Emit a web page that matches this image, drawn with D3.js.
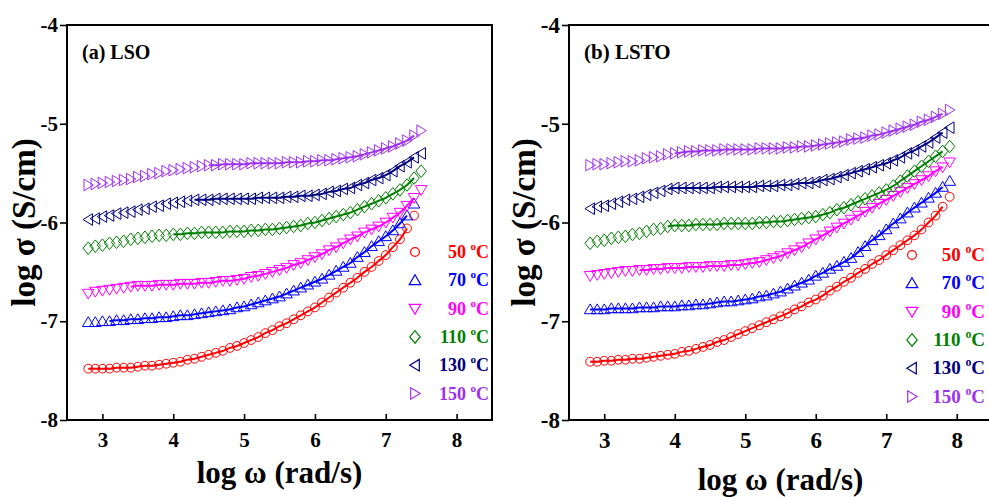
<!DOCTYPE html>
<html>
<head>
<meta charset="utf-8">
<script src="https://cdn.jsdelivr.net/npm/d3@7"></script>
<style>
  body { margin: 0; background: #fff; }
  text { font-family: "Liberation Serif", "Times New Roman", serif; font-weight: bold; }
</style>
</head>
<body>
<script>
// log ω (rad/s) sampling of each panel
var freqLSO = [2.8, 2.9, 3.0, 3.1, 3.2, 3.3, 3.4, 3.5, 3.6, 3.7, 3.8, 3.9, 4.0, 4.1, 4.2, 4.3,
    4.4, 4.5, 4.6, 4.7, 4.8, 4.9, 5.0, 5.1, 5.2, 5.3, 5.4, 5.5, 5.6, 5.7, 5.8, 5.9, 6.0, 6.1,
    6.2, 6.3, 6.4, 6.5, 6.6, 6.7, 6.8, 6.9, 7.0, 7.1, 7.2, 7.3, 7.4, 7.5];
var freqLSTO = [2.8, 2.9, 3.0, 3.1, 3.2, 3.3, 3.4, 3.5, 3.6, 3.7, 3.8, 3.9, 4.0, 4.1, 4.2, 4.3,
    4.4, 4.5, 4.6, 4.7, 4.8, 4.9, 5.0, 5.1, 5.2, 5.3, 5.4, 5.5, 5.6, 5.7, 5.8, 5.9, 6.0, 6.1,
    6.2, 6.3, 6.4, 6.5, 6.6, 6.7, 6.8, 6.9, 7.0, 7.1, 7.2, 7.3, 7.4, 7.5, 7.6, 7.7, 7.8, 7.9];

var temps = ["50", "70", "90", "110", "130", "150"];
var colors = ["#ff0000", "#0000ff", "#ff00ff", "#008000", "#000080", "#a030f0"];
var symbols = ["circle", "up", "down", "diamond", "left", "right"];

// log σ (S/cm), panel (a) LSO
var lso50 = [-7.48, -7.48, -7.48, -7.48, -7.47, -7.47, -7.47, -7.46, -7.45, -7.45, -7.44, -7.43,
    -7.42, -7.41, -7.39, -7.38, -7.36, -7.34, -7.32, -7.30, -7.27, -7.25, -7.22, -7.19, -7.16,
    -7.12, -7.09, -7.05, -7.02, -6.98, -6.94, -6.90, -6.86, -6.81, -6.76, -6.71, -6.66, -6.61,
    -6.56, -6.50, -6.45, -6.39, -6.33, -6.25, -6.17, -6.06, -5.93];
var lso70 = [-7.01, -7.01, -7.00, -7.00, -6.99, -6.99, -6.98, -6.98, -6.97, -6.97, -6.96, -6.96,
    -6.95, -6.94, -6.94, -6.93, -6.92, -6.91, -6.90, -6.89, -6.88, -6.86, -6.85, -6.83, -6.81,
    -6.79, -6.77, -6.75, -6.72, -6.69, -6.66, -6.63, -6.60, -6.57, -6.53, -6.49, -6.45, -6.41,
    -6.35, -6.30, -6.24, -6.19, -6.14, -6.08, -6.01, -5.93, -5.81];
var lso90 = [-6.72, -6.70, -6.69, -6.68, -6.67, -6.66, -6.65, -6.64, -6.64, -6.64, -6.63, -6.63,
    -6.63, -6.62, -6.62, -6.62, -6.61, -6.61, -6.60, -6.59, -6.59, -6.58, -6.57, -6.55, -6.54,
    -6.52, -6.50, -6.48, -6.46, -6.43, -6.41, -6.38, -6.35, -6.32, -6.28, -6.25, -6.21, -6.17,
    -6.14, -6.10, -6.07, -6.04, -6.00, -5.95, -5.90, -5.83, -5.75, -5.67];
var lso110 = [-6.26, -6.24, -6.23, -6.21, -6.20, -6.19, -6.17, -6.16, -6.15, -6.14, -6.13, -6.13,
    -6.12, -6.12, -6.11, -6.11, -6.10, -6.10, -6.10, -6.10, -6.09, -6.09, -6.09, -6.08, -6.08,
    -6.07, -6.07, -6.06, -6.05, -6.04, -6.03, -6.01, -6.00, -5.98, -5.96, -5.94, -5.92, -5.90,
    -5.87, -5.84, -5.81, -5.78, -5.75, -5.71, -5.67, -5.62, -5.55, -5.48];
var lso130 = [-5.97, -5.96, -5.94, -5.93, -5.91, -5.90, -5.89, -5.87, -5.86, -5.84, -5.83, -5.81,
    -5.80, -5.79, -5.78, -5.77, -5.77, -5.77, -5.76, -5.76, -5.76, -5.76, -5.76, -5.76, -5.75,
    -5.75, -5.75, -5.75, -5.74, -5.74, -5.73, -5.73, -5.72, -5.71, -5.69, -5.68, -5.66, -5.65,
    -5.62, -5.60, -5.57, -5.55, -5.52, -5.48, -5.43, -5.39, -5.34, -5.30];
var lso150 = [-5.62, -5.61, -5.60, -5.59, -5.58, -5.57, -5.56, -5.54, -5.53, -5.51, -5.50, -5.48,
    -5.47, -5.46, -5.45, -5.44, -5.43, -5.42, -5.42, -5.41, -5.41, -5.41, -5.41, -5.40, -5.40,
    -5.40, -5.40, -5.40, -5.39, -5.39, -5.39, -5.38, -5.38, -5.37, -5.37, -5.36, -5.35, -5.34,
    -5.33, -5.31, -5.29, -5.27, -5.25, -5.23, -5.20, -5.17, -5.12, -5.07];

// log σ (S/cm), panel (b) LSTO
var lsto50 = [-7.41, -7.41, -7.40, -7.40, -7.39, -7.39, -7.38, -7.38, -7.37, -7.36, -7.35, -7.34,
    -7.33, -7.31, -7.30, -7.28, -7.26, -7.24, -7.21, -7.19, -7.16, -7.13, -7.10, -7.07, -7.04,
    -7.01, -6.98, -6.95, -6.92, -6.88, -6.85, -6.81, -6.78, -6.74, -6.69, -6.65, -6.60, -6.56,
    -6.51, -6.47, -6.42, -6.38, -6.33, -6.28, -6.23, -6.18, -6.13, -6.07, -6.00, -5.93, -5.84, -5.74];
var lsto70 = [-6.88, -6.88, -6.88, -6.87, -6.87, -6.87, -6.87, -6.86, -6.86, -6.86, -6.85, -6.85,
    -6.85, -6.84, -6.84, -6.83, -6.83, -6.82, -6.81, -6.80, -6.80, -6.79, -6.78, -6.77, -6.75,
    -6.74, -6.72, -6.70, -6.67, -6.64, -6.61, -6.58, -6.54, -6.51, -6.47, -6.44, -6.40, -6.36,
    -6.30, -6.24, -6.18, -6.13, -6.07, -6.01, -5.96, -5.90, -5.85, -5.80, -5.75, -5.70, -5.64, -5.58];
var lsto90 = [-6.54, -6.53, -6.52, -6.51, -6.50, -6.49, -6.49, -6.48, -6.48, -6.47, -6.47, -6.46,
    -6.46, -6.46, -6.45, -6.45, -6.45, -6.44, -6.44, -6.44, -6.43, -6.43, -6.42, -6.41, -6.40,
    -6.38, -6.36, -6.34, -6.31, -6.28, -6.25, -6.21, -6.17, -6.13, -6.09, -6.05, -6.01, -5.97,
    -5.93, -5.89, -5.85, -5.81, -5.77, -5.73, -5.69, -5.65, -5.61, -5.57, -5.53, -5.48, -5.44, -5.39];
var lsto110 = [-6.21, -6.19, -6.18, -6.16, -6.15, -6.14, -6.12, -6.11, -6.09, -6.07, -6.06, -6.04,
    -6.03, -6.03, -6.03, -6.02, -6.02, -6.02, -6.02, -6.01, -6.01, -6.01, -6.01, -6.01, -6.00,
    -6.00, -5.99, -5.99, -5.98, -5.97, -5.96, -5.95, -5.94, -5.92, -5.90, -5.87, -5.85, -5.82,
    -5.79, -5.76, -5.73, -5.70, -5.67, -5.63, -5.58, -5.53, -5.48, -5.43, -5.38, -5.33, -5.28, -5.23];
var lsto130 = [-5.86, -5.84, -5.83, -5.81, -5.79, -5.77, -5.76, -5.74, -5.72, -5.70, -5.68, -5.66,
    -5.65, -5.65, -5.65, -5.65, -5.65, -5.65, -5.64, -5.64, -5.64, -5.64, -5.64, -5.64, -5.63,
    -5.63, -5.63, -5.62, -5.62, -5.61, -5.60, -5.60, -5.59, -5.57, -5.56, -5.54, -5.52, -5.50,
    -5.48, -5.46, -5.44, -5.42, -5.40, -5.37, -5.34, -5.30, -5.27, -5.23, -5.19, -5.14, -5.09, -5.04];
var lsto150 = [-5.42, -5.41, -5.41, -5.40, -5.39, -5.38, -5.38, -5.37, -5.35, -5.34, -5.33, -5.31,
    -5.30, -5.29, -5.28, -5.28, -5.27, -5.27, -5.27, -5.26, -5.26, -5.26, -5.26, -5.26, -5.25,
    -5.25, -5.25, -5.25, -5.24, -5.24, -5.23, -5.23, -5.22, -5.21, -5.20, -5.19, -5.18, -5.16,
    -5.15, -5.14, -5.12, -5.11, -5.09, -5.07, -5.05, -5.03, -5.01, -4.98, -4.96, -4.93, -4.90, -4.86];

// where the fitted curve starts (log ω)
var fitStartLSO = [2.8, 3.1, 3.4, 4.0, 4.3, 4.5];
var fitStartLSTO = [2.8, 2.8, 3.5, 3.9, 3.9, 4.0];

var xTicks = [3, 4, 5, 6, 7, 8];
var yTicks = [-8, -7, -6, -5, -4];

var w = 989, h = 497;
var svg = d3.select("body").append("svg")
    .attr("width", w)
    .attr("height", h);

function markerPath(type) {
    if (type == "circle") return "M4.4,0A4.4,4.4 0 1,1 -4.4,0A4.4,4.4 0 1,1 4.4,0Z";
    if (type == "up") return "M0,-5.5L5.8,4.3L-5.8,4.3Z";
    if (type == "down") return "M0,5.5L5.8,-4.3L-5.8,-4.3Z";
    if (type == "diamond") return "M0,-6.3L5.2,0L0,6.3L-5.2,0Z";
    if (type == "left") return "M-5.2,0L4.3,-5.8L4.3,5.8Z";
    return "M5.2,0L-4.3,-5.8L-4.3,5.8Z";
}

function drawPanel(p) {
    var g = svg.append("g");

    var x = d3.scaleLinear().domain([2.5, 8.5]).range([p.left, p.right]);
    var y = d3.scaleLinear().domain([-8, -4]).range([p.bottom, p.top]);

    // axes
    var xAxis = g.append("g")
        .attr("transform", "translate(0," + p.bottom + ")")
        .call(d3.axisBottom(x).tickValues(xTicks).tickSize(-6).tickPadding(12)
            .tickFormat(function(d) { return String(d); }));
    xAxis.select(".domain").remove();
    xAxis.selectAll("line").attr("stroke-width", 1.6);
    xAxis.selectAll("text").attr("font-size", p.tickFont).attr("fill", "#000")
        .attr("font-family", "Liberation Serif, Times New Roman, serif");

    var yAxis = g.append("g")
        .attr("transform", "translate(" + p.left + ",0)")
        .call(d3.axisLeft(y).tickValues(yTicks).tickSize(7).tickPadding(2)
            .tickFormat(function(d) { return String(d); }));
    yAxis.select(".domain").remove();
    yAxis.selectAll("line").attr("stroke-width", 1.6);
    yAxis.selectAll("text").attr("font-size", p.tickFont).attr("fill", "#000")
        .attr("font-family", "Liberation Serif, Times New Roman, serif");

    // frame
    g.append("rect")
        .attr("x", p.left).attr("y", p.top)
        .attr("width", p.right - p.left).attr("height", p.bottom - p.top)
        .attr("fill", "none").attr("stroke", "#000").attr("stroke-width", 2);

    // series: open markers plus the fitted curve
    var line = d3.line()
        .x(function(d) { return x(d[0]); })
        .y(function(d) { return y(d[1]); })
        .curve(d3.curveMonotoneX);

    p.series.forEach(function(vals, i) {
        var pts = vals.map(function(v, j) { return [p.freq[j], v]; });
        g.append("g").selectAll("path")
            .data(pts)
            .enter()
            .append("path")
            .attr("d", markerPath(symbols[i]))
            .attr("transform", function(d) { return "translate(" + x(d[0]) + "," + y(d[1]) + ")"; })
            .attr("fill", "none")
            .attr("stroke", colors[i])
            .attr("stroke-width", 1);

        var fit = pts.filter(function(d, j) { return d[0] >= p.fitStart[i] - 1e-6 && j < pts.length - 1; });
        g.append("path")
            .datum(fit)
            .attr("d", line)
            .attr("fill", "none")
            .attr("stroke", colors[i])
            .attr("stroke-width", 2);
    });

    // legend
    temps.forEach(function(t, i) {
        var cy = p.legY + i * p.legStep;
        g.append("path")
            .attr("d", markerPath(symbols[i]))
            .attr("transform", "translate(" + p.legSymX + "," + cy + ")")
            .attr("fill", "none")
            .attr("stroke", colors[i])
            .attr("stroke-width", 1.2);
        var txt = g.append("text")
            .attr("x", p.legTextX)
            .attr("y", cy + 6)
            .attr("text-anchor", "end")
            .attr("font-size", p.legFont)
            .attr("fill", colors[i]);
        txt.append("tspan").text(t + " ");
        txt.append("tspan").attr("font-size", p.legFont * 0.62).attr("dy", -8).text("o");
        txt.append("tspan").attr("dy", 8).text("C");
    });

    // titles
    g.append("text")
        .attr("x", p.left + 15).attr("y", 59)
        .attr("font-size", p.titleFont)
        .text(p.title);

    g.append("text")
        .attr("transform", "translate(" + p.yLabX + "," + ((p.top + p.bottom) / 2) + ") rotate(-90)")
        .attr("text-anchor", "middle")
        .attr("font-size", 33)
        .text("log σ (S/cm)");

    g.append("text")
        .attr("x", (p.left + p.right) / 2)
        .attr("y", p.xLabY)
        .attr("text-anchor", "middle")
        .attr("font-size", 31)
        .text("log ω (rad/s)");
}

drawPanel({
    left: 67, right: 492, top: 25, bottom: 420,
    freq: freqLSO,
    series: [lso50, lso70, lso90, lso110, lso130, lso150],
    fitStart: fitStartLSO,
    title: "(a) LSO", titleFont: 20, tickFont: 21,
    legSymX: 415, legTextX: 489, legY: 252, legStep: 28.3, legFont: 18,
    yLabX: 35, xLabY: 483
});

drawPanel({
    left: 569, right: 992, top: 25, bottom: 420,
    freq: freqLSTO,
    series: [lsto50, lsto70, lsto90, lsto110, lsto130, lsto150],
    fitStart: fitStartLSTO,
    title: "(b) LSTO", titleFont: 21, tickFont: 23,
    legSymX: 912, legTextX: 985, legY: 255, legStep: 28.3, legFont: 19,
    yLabX: 535, xLabY: 490
});
</script>
</body>
</html>
